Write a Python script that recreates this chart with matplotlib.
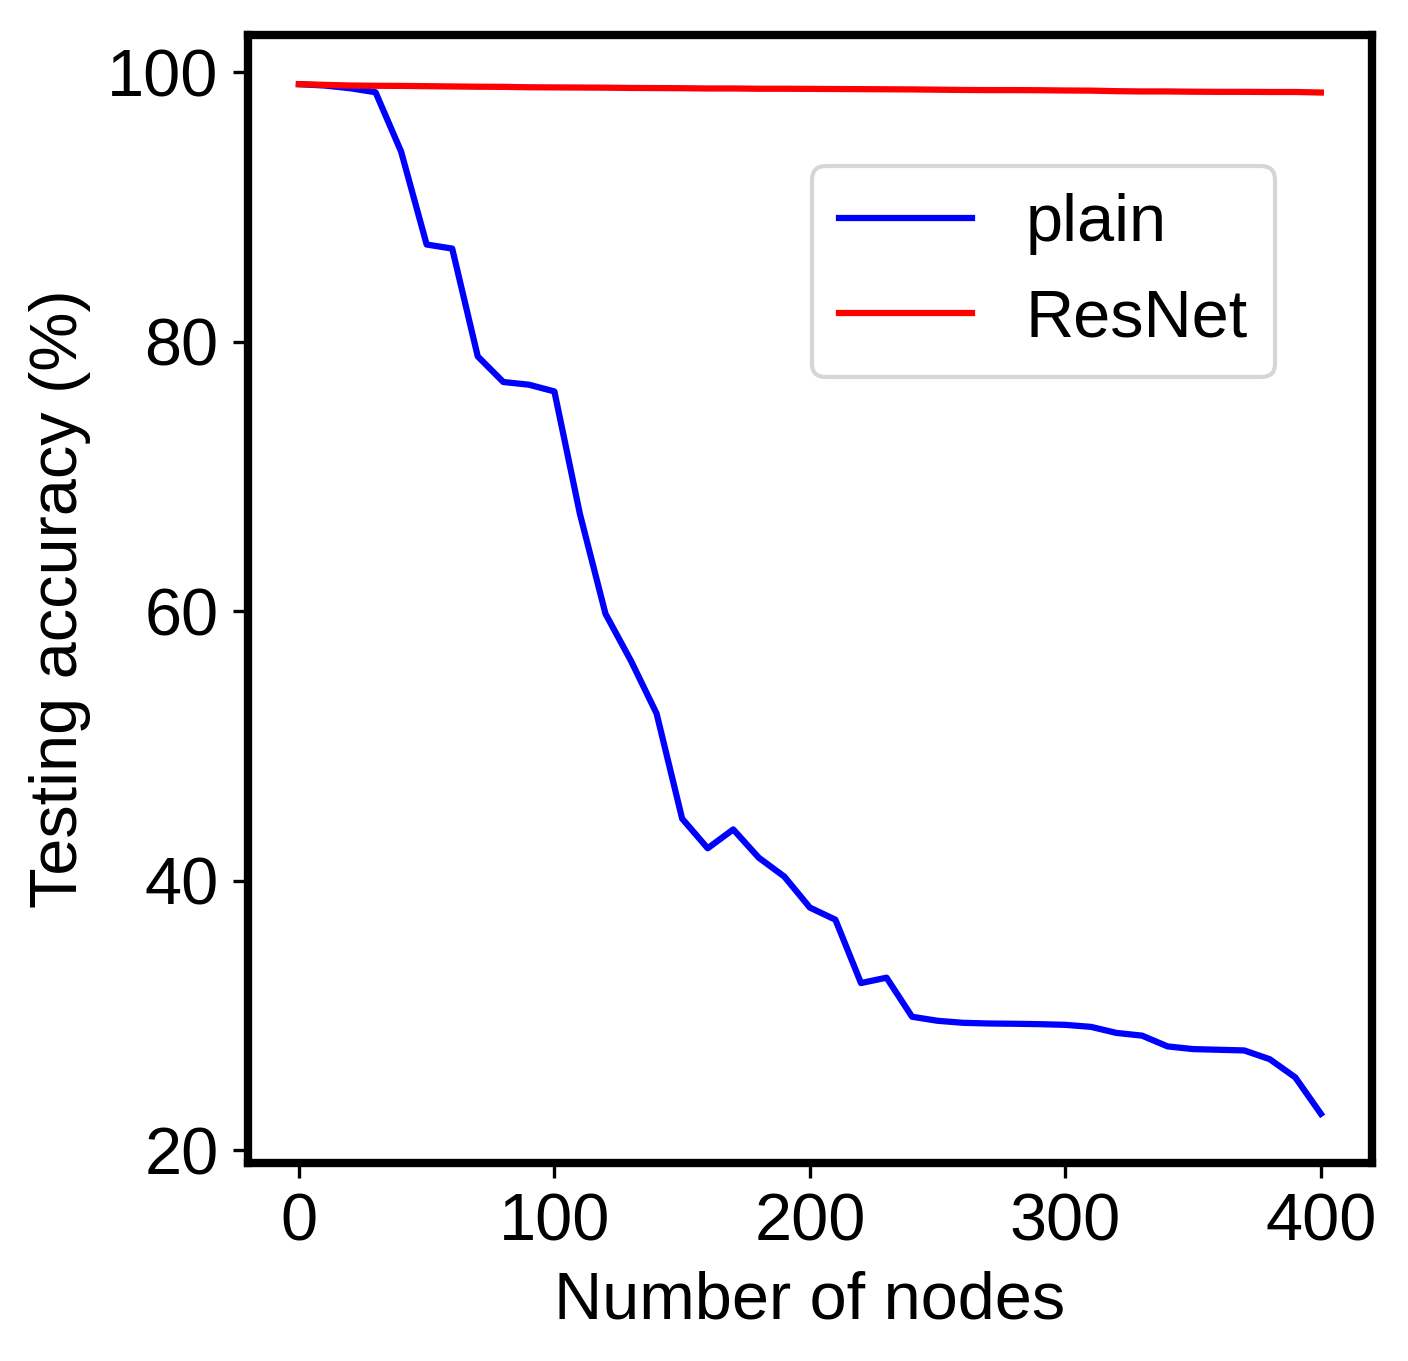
import numpy as np
import matplotlib.pyplot as plt

plt.rcParams['font.family'] = ['Liberation Sans', 'DejaVu Sans']

nodes = np.arange(0, 401, 10)

acc_plain = [99.1, 99.0, 98.8, 98.5, 94.1, 87.2, 86.9, 78.9, 77.0, 76.8,
             76.3, 67.2, 59.8, 56.3, 52.4, 44.6, 42.4, 43.8, 41.7, 40.3,
             38.0, 37.1, 32.4, 32.8, 29.9, 29.6, 29.45, 29.4, 29.38, 29.35,
             29.3, 29.15, 28.7, 28.5, 27.7, 27.5, 27.45, 27.4, 26.75, 25.4,
             22.7]

acc_resnet = [99.10, 99.05, 99.0, 98.98, 98.97, 98.95, 98.93, 98.91, 98.90, 98.87,
              98.86, 98.85, 98.84, 98.82, 98.81, 98.80, 98.78, 98.78, 98.76, 98.76,
              98.75, 98.74, 98.73, 98.72, 98.71, 98.69, 98.67, 98.66, 98.66, 98.65,
              98.63, 98.62, 98.58, 98.56, 98.56, 98.54, 98.53, 98.53, 98.52, 98.52,
              98.48]

fig = plt.figure(figsize=(1408/300, 1361/300), dpi=300)
ax = fig.add_axes([0.176, 0.1455, 0.7984, 0.8288])

ax.plot(nodes, acc_plain, color='blue', lw=1.5, label='plain')
ax.plot(nodes, acc_resnet, color='red', lw=1.5, label='ResNet')

ax.set_xlabel('Number of nodes', fontsize=16, labelpad=4)
ax.set_ylabel('Testing accuracy (%)', fontsize=16)
ax.set_xticks([0, 100, 200, 300, 400])
ax.set_yticks([20, 40, 60, 80, 100])
ax.set_ylim(19.05, 102.75)
ax.tick_params(labelsize=16)
for s in ax.spines.values():
    s.set_linewidth(2)

ax.legend(fontsize=16, loc='upper right', bbox_to_anchor=(0.943, 0.913))

fig.savefig('out.png', dpi=300)
